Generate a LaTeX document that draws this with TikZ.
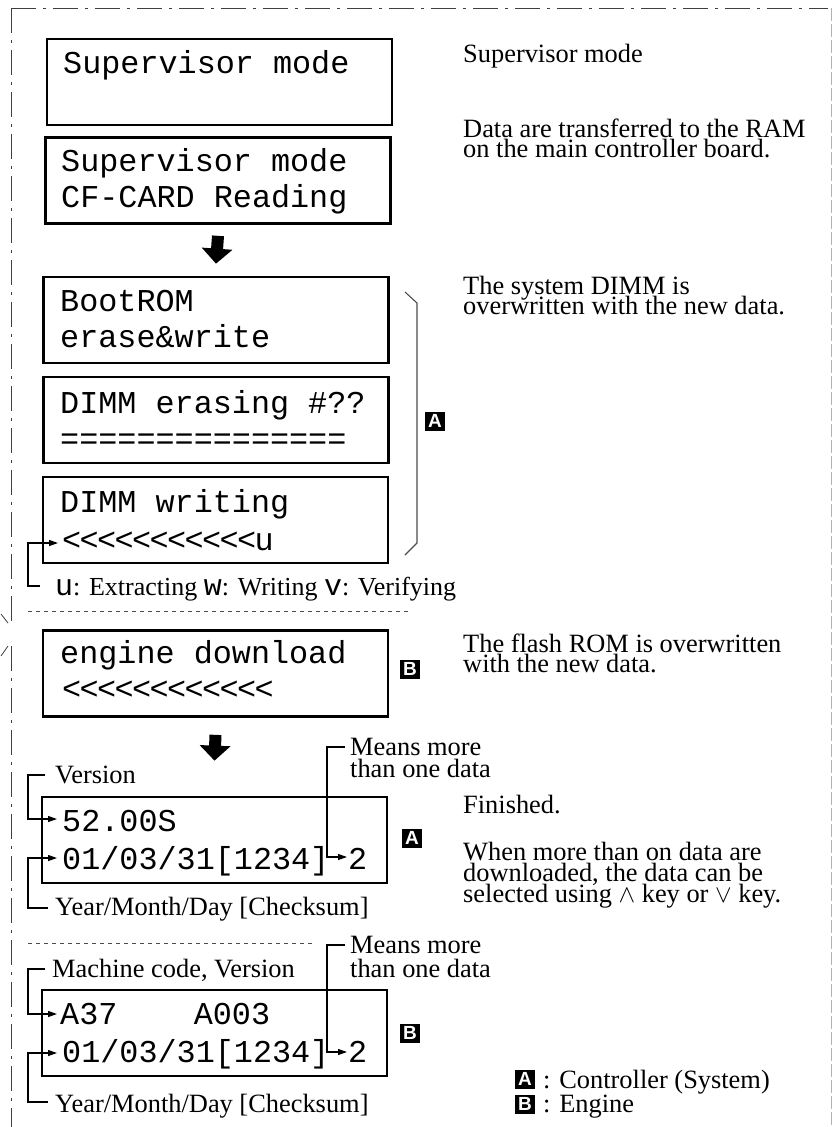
\documentclass[tikz,border=0pt]{standalone}
\usepackage{fontspec}
\setmainfont{Liberation Serif}
\newfontfamily\monof{Liberation Mono}
\newfontfamily\badgef{Liberation Sans}
\usetikzlibrary{arrows.meta,calc}
\begin{document}
\begin{tikzpicture}[x=1pt,y=-1pt,
  lcd/.style={draw=black, line width=2.7pt, minimum width=345pt, minimum height=86pt, inner sep=0pt},
  mono/.style={font=\monof\fontsize{31.8}{36}\selectfont, anchor=base west, inner sep=0pt},
  lt/.style={mono, font=\monof\fontsize{31.8}{36}\selectfont\addfontfeature{LetterSpace=-5}},
  serif/.style={font=\fontsize{26.4}{21}\selectfont, anchor=base west, inner sep=0pt, text height=17pt, text depth=3pt},
  conn/.style={line width=1.2pt, black},
  tip/.style={-{Triangle[length=9pt,width=6pt]}},
  bigarrow/.style={line width=12pt, -{Triangle[length=15pt,width=30pt]}},
  badge/.style={fill=black, text=white, font=\badgef\bfseries\fontsize{19}{19}\selectfont, minimum width=20pt, minimum height=19pt, inner sep=0pt},
  sepline/.style={dash pattern=on 4pt off 4pt, line width=1pt, black!70},
  frameline/.style={dash pattern=on 25pt off 7pt on 3pt off 7pt, line width=1pt, black!75},
  rightline/.style={dash pattern=on 13pt off 3pt, line width=1pt, black!30}
]
\useasboundingbox (0,0) rectangle (832,1127);
% frame
\draw[frameline] (11,8) -- (828,8);
\draw[frameline] (11,8) -- (11,626);
\draw[frameline] (11,646) -- (11,1127);
\draw[line width=0.8pt, black!75] (1,614) -- (8,623);
\draw[line width=0.8pt, black!75] (1,656) -- (8,646);
\draw[rightline] (831,8) -- (831,1127);

% boxes
\node[lcd] (b1) at (219.5,82) {};
\node[lcd] (b2) at (218,180.5) {};
\node[lcd] (b3) at (216,320) {};
\node[lcd] (b4) at (216,420) {};
\node[lcd] (b5) at (215.5,520) {};
\node[lcd] (b6) at (215.5,673.5) {};
\node[lcd] (b7) at (214.5,840) {};
\node[lcd] (b8) at (214.5,1033) {};

% box texts
\node[mono] (t1) at (63,73) {Supervisor mode};
\node[mono] (t2a) at (61,171) {Supervisor mode};
\node[mono] (t2b) at (61,207) {CF-CARD Reading};
\node[mono] (t3a) at (60,311) {BootROM};
\node[mono] (t3b) at (60,347) {erase\&write};
\node[mono] (t4a) at (60,413) {DIMM erasing \#??};
\node[mono] (t4b) at (60,449) {===============};
\node[mono] (t5a) at (60,512) {DIMM writing};
\node[lt] (t5b) at (62,550) {<<<<<<<<<<<u};
\node[mono] (t6a) at (60,663) {engine download};
\node[lt] (t6b) at (62,699) {<<<<<<<<<<<<};
\node[mono] (t7a) at (62,831) {52.00S};
\node[mono] (t7b) at (62,869) {01/03/31[1234]};
\node[mono] (t7c) at (348,869) {2};
\node[mono] (t8a) at (60,1024) {A37\ \ \ \ A003};
\node[mono] (t8b) at (62,1062) {01/03/31[1234]};
\node[mono] (t8c) at (348,1062) {2};

% big arrows
\draw[bigarrow] ($(b2.south)+(0,11)$) -- ($(b3.north)+(0,-12)$);
\draw[bigarrow] ($(b6.south)+(0,17)$) -- ($(b7.north)+(0,-35)$);

% bracket
\draw[line width=1.1pt, black!70] (405,292) -- (417,303) -- (417,543) -- (405,555);

% badges
\node[badge] (bA1) at (435,421) {A};
\node[badge] (bB1) at (410,669) {B};
\node[badge] (bA2) at (412,838) {A};
\node[badge] (bB2) at (410,1033) {B};
\node[badge] (lA) at (525,1079) {A};
\node[badge] (lB) at (525,1104) {B};
\node[serif] (lAt) at (543,1088) {: Controller (System)};
\node[serif] (lBt) at (543,1112) {: Engine};

% right descriptions
\node[serif] (d1) at (463,62) {Supervisor mode};
\node[serif] (d2a) at (463,137) {Data are transferred to the RAM};
\node[serif] (d2b) at (463,157) {on the main controller board.};
\node[serif] (d3a) at (463,294) {The system DIMM is};
\node[serif] (d3b) at (463,314) {overwritten with the new data.};
\node[serif] (d6a) at (463,652) {The flash ROM is overwritten};
\node[serif] (d6b) at (463,672) {with the new data.};
\node[serif] (d7a) at (463,813) {Finished.};
\node[serif] (d7b) at (463,860) {When more than on data are};
\node[serif] (d7c) at (463,881) {downloaded, the data can be};
\node[serif] (d7d) at (463,902) {selected using $\wedge$ key or $\vee$ key.};

% separators
\draw[sepline] (28,611) -- (408,611);
\draw[sepline] (28,943) -- (312,943);

% box5 legend
\node[serif, font=\fontsize{26}{21}\selectfont] (l5) at (55,595) {{\monof\fontsize{30}{21}\selectfont u}: Extracting {\monof\fontsize{30}{21}\selectfont w}: Writing {\monof\fontsize{30}{21}\selectfont v}: Verifying};
\coordinate (l5s) at (40,586);
\coordinate (l5t) at (58,543);
\draw[conn,tip] (l5s) -- ++(-12,0) |- (l5t);

% box7 labels
\node[serif] (lv7) at (55,783) {Version};
\node[serif] (ly7) at (55,915) {Year/Month/Day [Checksum]};
\node[serif] (lm7a) at (350,755) {Means more};
\node[serif] (lm7b) at (350,777) {than one data};
\coordinate (v7s) at (45,775);
\coordinate (v7t) at (57,819);
\draw[conn,tip] (v7s) -- ++(-17,0) |- (v7t);
\coordinate (y7s) at (48,908);
\coordinate (y7t) at (57,858);
\draw[conn,tip] (y7s) -- ++(-20,0) |- (y7t);
\coordinate (m7s) at (345,747);
\coordinate (m7t) at (347,857);
\draw[conn,tip] (m7s) -- ++(-18,0) |- (m7t);

% box8 labels
\node[serif] (lv8) at (52,977) {Machine code, Version};
\node[serif] (ly8) at (55,1112) {Year/Month/Day [Checksum]};
\node[serif] (lm8a) at (350,953) {Means more};
\node[serif] (lm8b) at (350,977) {than one data};
\coordinate (v8s) at (45,969);
\coordinate (v8t) at (57,1014);
\draw[conn,tip] (v8s) -- ++(-17,0) |- (v8t);
\coordinate (y8s) at (48,1102);
\coordinate (y8t) at (57,1053);
\draw[conn,tip] (y8s) -- ++(-20,0) |- (y8t);
\coordinate (m8s) at (345,945);
\coordinate (m8t) at (347,1052);
\draw[conn,tip] (m8s) -- ++(-18,0) |- (m8t);
\end{tikzpicture}
\end{document}
